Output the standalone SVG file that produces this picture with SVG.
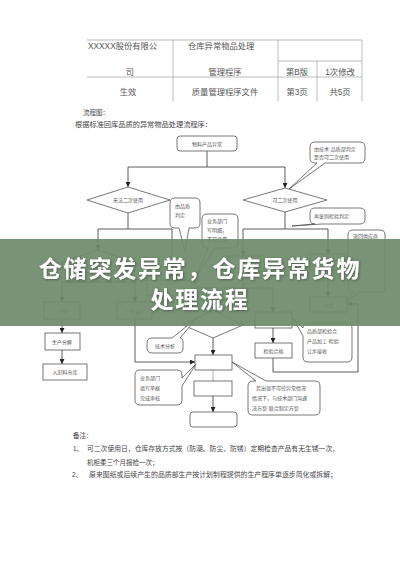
<svg xmlns="http://www.w3.org/2000/svg" width="400" height="566" viewBox="0 0 400 566">
<style>
.t{font-family:"Liberation Sans","Noto Sans CJK SC",sans-serif;fill:#555;font-size:8.3px}
.s{font-family:"Liberation Sans","Noto Sans CJK SC",sans-serif;fill:#555;font-size:5px}
.n{font-family:"Liberation Sans","Noto Sans CJK SC",sans-serif;fill:#444;font-size:6.5px}
.m{text-anchor:middle}
.tl{stroke:#aaa;stroke-width:0.8;fill:none}
.b{fill:#fff;stroke:#555;stroke-width:0.8}
.c{stroke:#333;stroke-width:0.8;fill:none}
.cm{stroke:#333;stroke-width:0.8;fill:none;marker-end:url(#ar)}
.ban{font-family:"Noto Sans CJK SC",sans-serif;font-weight:bold;font-size:23px;fill:#fff;text-anchor:middle}
</style>
<defs>
<marker id="ar" viewBox="0 0 6 6" refX="6" refY="3" markerWidth="5" markerHeight="5" orient="auto" markerUnits="userSpaceOnUse">
<path d="M0,0 L6,3 L0,6 Z" fill="#222"/>
</marker>
<filter id="sh" x="-5%" y="-20%" width="110%" height="140%">
<feDropShadow dx="0.8" dy="0.8" stdDeviation="0.8" flood-color="#222" flood-opacity="0.5"/>
</filter>
</defs>
<rect width="400" height="566" fill="#fff"/>

<g id="table">
<path class="tl" d="M87,40 H362 M278,61 H362 M87,77 H362 M173,40 V101 M278,40 V101 M317,61 V101 M362,40 V101"/>
<text class="t" x="88" y="48.5">XXXXX股份有限公</text>
<text class="t" x="188" y="48.5">仓库异常物品处理</text>
<text class="t m" x="130" y="74.5">司</text>
<text class="t m" x="225" y="74.5">管理程序</text>
<text class="t m" x="297" y="74.5">第B版</text>
<text class="t m" x="340" y="74.5">1次修改</text>
<text class="t m" x="128" y="94.5">生效</text>
<text class="t m" x="225" y="94.5">质量管理程序文件</text>
<text class="t m" x="297" y="94.5">第3页</text>
<text class="t m" x="340" y="94.5">共5页</text>
</g>

<text class="n" x="83" y="115">流程图：</text>
<text class="n" x="75" y="127" textLength="137" lengthAdjust="spacingAndGlyphs">根据标准回库品质的异常物品处理流程序：</text>

<g id="connectors">
<path class="c" d="M207,151 V167 M128,167 H285 M128,213 V229 M98,229 H172 M285,212 V229 M243,229 H328"/>
<path class="cm" d="M128,167 V187"/>
<path class="cm" d="M285,167 V188"/>
<path class="cm" d="M98,229 V250"/>
<path class="cm" d="M172,229 V280"/>
<path class="cm" d="M243,229 V256"/>
<path class="cm" d="M328,229 V254"/>
<path class="c" d="M98,276 V282 M62,282 H135"/>
<path class="cm" d="M62,282 V302"/>
<path class="cm" d="M135,282 V302"/>
<path class="cm" d="M195,288 H273 V312"/>
<path class="cm" d="M243,272 V300 H213 V310"/>
<path class="cm" d="M328,270 V297"/>
<path class="cm" d="M62,319 V333"/>
<path class="cm" d="M62,350 V364"/>
<path class="cm" d="M135,319 V362 H195"/>
<path class="cm" d="M213,338 V355"/>
<path d="M213,370 V381" stroke="#ccc" stroke-width="1.5"/>
<path class="cm" d="M213,396 V412"/>
<path class="cm" d="M273,328 V343"/>
<path class="cm" d="M273,358 V372 H358 V304 H347"/>
</g>

<g id="n-start"><rect class="b" x="177" y="136" width="60" height="15" rx="3"/><text class="s m" x="207" y="145.5">物料产品异常</text></g>
<g id="n-d1"><path class="b" d="M128,187 L170,200 L128,213 L87,200 Z"/><text class="s m" x="128" y="202">无法二次使用</text></g>
<g id="n-d2"><path class="b" d="M285,188 L327,200 L285,212 L243,200 Z"/><text class="s m" x="285" y="202">可二次使用</text></g>

<g id="c1"><path class="b" d="M315,142 H360 Q365,142 365,147 V158 Q365,163 360,163 H325 L289,189 L317,163 H315 Q310,163 310,158 V147 Q310,142 315,142 Z"/><text class="s" x="314" y="150.5">由技术·品质部判定</text><text class="s" x="314" y="159">是否可二次使用</text></g>
<g id="c2"><path class="b" d="M315,208 H360 Q365,208 365,213 V219 Q365,224 360,224 H322 L292,226 L314,224 H315 Q310,224 310,219 V213 Q310,208 315,208 Z"/><text class="s" x="314" y="218">再鉴别检验判定</text></g>
<g id="c3"><path class="b" d="M175,198 H195 Q200,198 200,203 V223 Q200,228 195,228 H189 L185,252 L179,228 H175 Q170,228 170,223 V203 Q170,198 175,198 Z"/><text class="s" x="175" y="208">由品质</text><text class="s" x="175" y="217">判定</text></g>
<g id="c4"><path class="b" d="M207,214 H233 Q238,214 238,219 V243 Q238,248 233,248 H215 L197,276 L208,248 H207 Q202,248 202,243 V219 Q202,214 207,214 Z"/><text class="s" x="207" y="223">业务部门</text><text class="s" x="207" y="232">写明细，</text><text class="s" x="207" y="241">不可使用</text></g>
<g id="c5"><path class="b" d="M353,230 H380 Q385,230 385,235 V287 Q385,292 380,292 H359 L346,303 L353,292 Q348,292 348,287 V235 Q348,230 353,230 Z"/><text class="s" x="353" y="238">退回供应商</text></g>

<g id="n-d3"><path class="b" d="M98,250 L137,263 L98,276 L60,263 Z"/></g>
<g id="n-b1"><rect class="b" x="147" y="280" width="48" height="16"/></g>
<g id="n-b2"><rect class="b" x="222" y="256" width="42" height="16"/></g>
<g id="n-b3"><rect class="b" x="310" y="254" width="37" height="16"/></g>
<g id="n-b4"><rect class="b" x="255" y="312" width="37" height="16"/></g>
<g id="n-d4"><path class="b" d="M213,310 L243,325 L213,338 L183,325 Z"/></g>

<g id="n-ruku"><rect class="b" x="310" y="297" width="37" height="15"/><text class="s m" x="328.5" y="306.5">入库</text></g>
<g id="n-l1"><rect class="b" x="44" y="302" width="36" height="17"/><text class="s m" x="62" y="312.5">以旧料</text></g>
<g id="n-l2"><rect class="b" x="117" y="302" width="35" height="17"/><text class="s m" x="134.5" y="312.5">一般废料</text></g>
<g id="n-l3"><rect class="b" x="45" y="333" width="35" height="17"/><text class="s m" x="62" y="343.5">生产分解</text></g>
<g id="n-l4"><rect class="b" x="43" y="364" width="44" height="16"/><text class="s m" x="65" y="374">入旧料仓库</text></g>
<g id="n-jy"><rect class="b" x="255" y="343" width="37" height="15"/><text class="s m" x="273.5" y="352.5">检验合格</text></g>
<g id="n-m1"><rect class="b" x="195" y="355" width="37" height="15"/></g>
<g id="n-m2"><rect class="b" x="194" y="381" width="38" height="15"/></g>
<g id="n-m3"><rect class="b" x="190" y="412" width="47" height="15" rx="3"/></g>

<g id="c6"><path class="b" d="M152,338 H172 L197,318 L180,338 Q183,338 183,343 V348 Q183,353 178,353 H152 Q147,353 147,348 V343 Q147,338 152,338 Z"/><text class="s m" x="165" y="347.5">技术分析</text></g>
<g id="c7"><path class="b" d="M308,323 H347 Q352,323 352,328 V357 Q352,362 347,362 H308 Q303,362 303,357 V336 L293,318 L303,328 Q303,323 308,323 Z"/><text class="s" x="307" y="333">品质部检验合</text><text class="s" x="307" y="343">产品加工·检验</text><text class="s" x="307" y="353">让步接收</text></g>
<g id="c8"><path class="b" d="M140,370 H177 Q182,370 182,375 V378 L196,364 L182,386 V400 Q182,405 177,405 H140 Q135,405 135,400 V375 Q135,370 140,370 Z"/><text class="s" x="140" y="380">业务部门</text><text class="s" x="140" y="390">填写单据</text><text class="s" x="140" y="400">完成审核</text></g>
<g id="c9"><path class="b" d="M253,381 H256 L232,362 L266,381 H315 Q320,381 320,386 V410 Q320,415 315,415 H253 Q248,415 248,410 V386 Q248,381 253,381 Z"/><text class="s" x="256" y="390">若出现不可控异常情况</text><text class="s" x="252" y="400">情况下，与技术部门沟通</text><text class="s" x="252" y="410">决方案·联合制定方案</text></g>

<g id="notes">
<text class="n" x="73" y="438">备注：</text>
<text class="n" x="73" y="451">1、</text>
<text class="n" x="87" y="451" textLength="252" lengthAdjust="spacingAndGlyphs">可二次使用日，仓库存放方式按（防潮、防尘、防锈）定期检查产品有无生锈一次，</text>
<text class="n" x="87" y="465">机柜柔三个月报检一次；</text>
<text class="n" x="72" y="477">2、</text>
<text class="n" x="89" y="477" textLength="248" lengthAdjust="spacingAndGlyphs">原来图纸或后续产生的品质部生产按计划制程提供的生产程序单逐步简化或拆解；</text>
</g>

<g id="banner">
<rect x="0" y="239" width="400" height="87" fill="#6e8b6a" opacity="0.93"/>
<text class="ban" x="200" y="277" letter-spacing="1.8" filter="url(#sh)">仓储突发异常，仓库异常货物</text>
<text class="ban" x="200" y="308" letter-spacing="1.8" filter="url(#sh)">处理流程</text>
</g>
</svg>
